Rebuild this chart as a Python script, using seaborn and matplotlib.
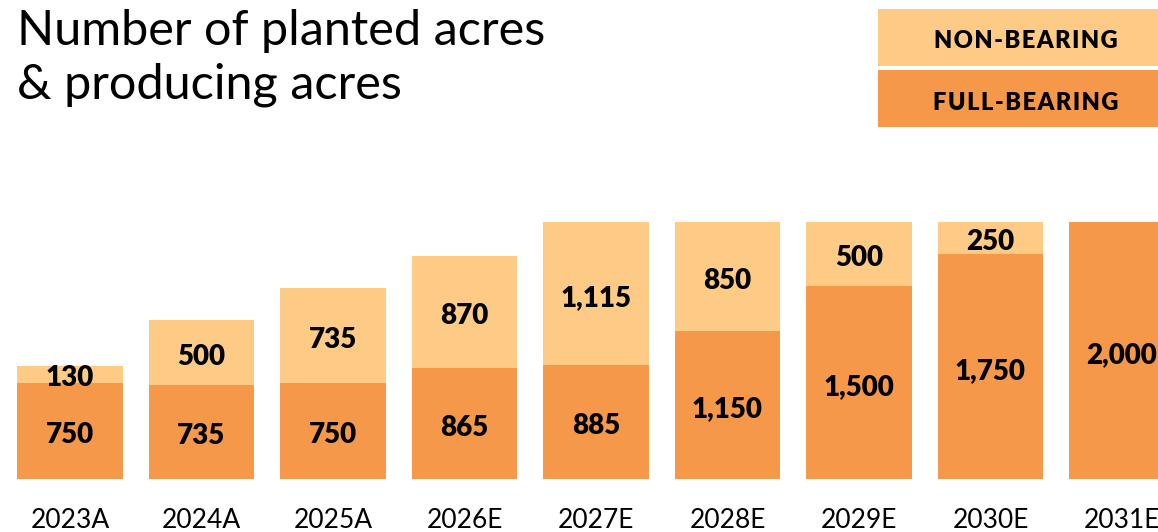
import matplotlib
matplotlib.use("Agg")
import matplotlib.pyplot as plt
import pandas as pd
import seaborn as sns
from matplotlib.patches import Rectangle

years = ["2023A", "2024A", "2025A", "2026E", "2027E", "2028E", "2029E", "2030E", "2031E"]
full_bearing = [750, 735, 750, 865, 885, 1150, 1500, 1750, 2000]
non_bearing = [130, 500, 735, 870, 1115, 850, 500, 250, 0]

LIGHT = "#FDCB85"
DARK = "#F5984A"

df = pd.DataFrame({"year": years, "full": full_bearing, "non": non_bearing})
df["total"] = df["full"] + df["non"]

sns.set_theme(style="white")
plt.rcParams["font.family"] = ["Lato", "DejaVu Sans"]

fig = plt.figure(figsize=(11.58, 5.32), dpi=100)
ax = fig.add_axes([0, 53 / 532, 1, 257 / 532])

# stacked bars: totals in light, full-bearing drawn on top
sns.barplot(data=df, x="year", y="total", order=years, color=LIGHT,
            saturation=1, width=0.8, linewidth=0, ax=ax)
sns.barplot(data=df, x="year", y="full", order=years, color=DARK,
            saturation=1, width=0.8, linewidth=0, ax=ax)

lbl = dict(ha="center", va="center", fontsize=20, fontweight="heavy",
           color="black", textcoords="offset points", xytext=(0, -3))
for i, row in df.iterrows():
    ax.annotate(f"{row['full']:,}", (i, row["full"] / 2), **lbl)
    if row["non"] > 0:
        ax.annotate(f"{row['non']:,}", (i, row["full"] + row["non"] / 2), **lbl)

ax.set_xlim(-0.532, 8.274)
ax.set_ylim(0, 2000)
ax.set_xlabel("")
ax.set_ylabel("")
ax.set_yticks([])
ax.tick_params(axis="x", length=0, labelsize=19, pad=21, colors="black")
sns.despine(ax=ax, left=True, bottom=True)

# title
fig.text(17 / 1158, 1 - 9 / 532, "Number of planted acres\n& producing acres",
         ha="left", va="top", fontsize=35, linespacing=1.27, color="black")

# legend boxes
for y0, y1, col, txt in [(9, 66, LIGHT, "NON-BEARING"), (70, 127, DARK, "FULL-BEARING")]:
    fig.add_artist(Rectangle((878 / 1158, 1 - y1 / 532), 280 / 1158, (y1 - y0) / 532,
                             transform=fig.transFigure, facecolor=col, edgecolor="none"))
    fig.text(1026 / 1158, 1 - ((y0 + y1) / 2 + 4) / 532, "\u200a".join(txt), ha="center",
             va="center", fontsize=17, fontweight="heavy", color="black")

fig.savefig("out.png", dpi=100)
